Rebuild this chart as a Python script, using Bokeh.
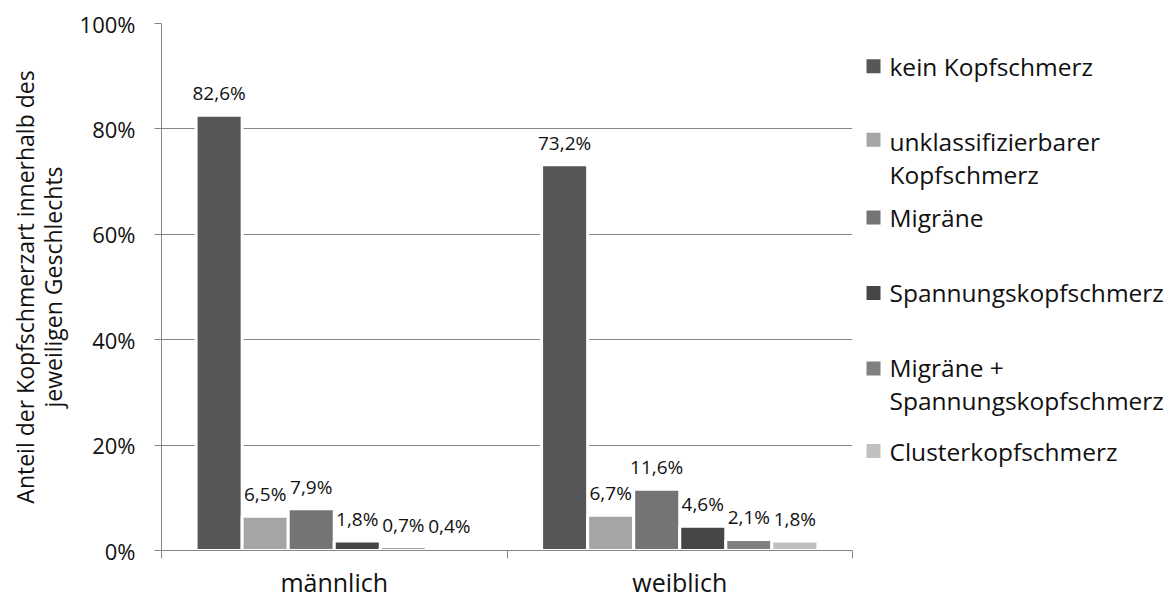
from bokeh.plotting import figure
from bokeh.models import (ColumnDataSource, FixedTicker, LabelSet, Range1d,
                          PrintfTickFormatter)
from bokeh.layouts import row
from bokeh.core.properties import value
from bokeh.embed import file_html
from bokeh.resources import INLINE

# --- data -------------------------------------------------------------
genders = ["männlich", "weiblich"]
series = ["kein Kopfschmerz",
          "unklassifizierbarer\nKopfschmerz",
          "Migräne",
          "Spannungskopfschmerz",
          "Migräne +\nSpannungskopfschmerz",
          "Clusterkopfschmerz"]
maennlich = [82.6, 6.5, 7.9, 1.8, 0.7, 0.4]
weiblich = [73.2, 6.7, 11.6, 4.6, 2.1, 1.8]
y_ticks = [0, 20, 40, 60, 80, 100]

colors = ["#575757", "#a5a5a5", "#747474", "#464646", "#808080", "#c0c0c0"]
FONT = "Open Sans"
AXIS_GREY = "#868686"
TEXT = "#111111"

# --- bar geometry (category units) -------------------------------------
n = len(series)
pitch = 0.1333
offsets = [(i - (n - 1) / 2) * pitch for i in range(n)]

xs, tops, fills, labels = [], [], [], []
for gi, vals in enumerate([maennlich, weiblich]):
    for si, v in enumerate(vals):
        xs.append(gi + 0.5 + offsets[si])
        tops.append(v)
        fills.append(colors[si])
        labels.append(f"{v:.1f}".replace(".", ",") + "%")

src = ColumnDataSource(dict(x=xs, top=tops, color=fills, label=labels))

TOP, BOTTOM = 23, 48

p = figure(width=865, height=601, output_backend="svg", toolbar_location=None,
           x_range=Range1d(0, 2), y_range=Range1d(0, 100),
           min_border_left=161, min_border_right=13,
           min_border_top=TOP, min_border_bottom=BOTTOM)
p.outline_line_color = None
p.background_fill_color = "white"

p.vbar(x="x", top="top", width=pitch, fill_color="color",
       line_color="white", line_width=3, source=src)

p.add_layout(LabelSet(x="x", y="top", text="label", source=src,
                      text_align="center", text_baseline="bottom",
                      y_offset=9, text_font=value(FONT),
                      text_font_size="19px", text_color=TEXT,
                      background_fill_color="white"))

# grid
p.xgrid.visible = False
p.ygrid.grid_line_color = AXIS_GREY
p.ygrid.grid_line_width = 1
p.ygrid.ticker = FixedTicker(ticks=y_ticks)

# y axis
p.yaxis.ticker = FixedTicker(ticks=y_ticks)
p.yaxis.formatter = PrintfTickFormatter(format="%d%%")
p.yaxis.axis_line_color = AXIS_GREY
p.yaxis.major_tick_line_color = AXIS_GREY
p.yaxis.major_tick_out = 7
p.yaxis.major_tick_in = 0
p.yaxis.minor_tick_line_color = None
p.yaxis.major_label_text_font = FONT
p.yaxis.major_label_text_font_size = "22px"
p.yaxis.major_label_text_color = TEXT
p.yaxis.major_label_standoff = 19
p.yaxis.axis_label = "Anteil der Kopfschmerzart innerhalb des\njeweiligen Geschlechts"
p.yaxis.axis_label_text_font = FONT
p.yaxis.axis_label_text_font_size = "23px"
p.yaxis.axis_label_text_font_style = "normal"
p.yaxis.axis_label_text_color = TEXT
p.yaxis.axis_label_text_line_height = 0.85
p.yaxis.axis_label_standoff = 8

# x axis: labels centred on groups, ticks on group boundaries
p.xaxis.ticker = FixedTicker(ticks=[i + 0.5 for i in range(len(genders))],
                             minor_ticks=list(range(len(genders) + 1)))
p.xaxis.major_label_overrides = {i + 0.5: g for i, g in enumerate(genders)}
p.xaxis.axis_line_color = AXIS_GREY
p.xaxis.major_tick_line_color = None
p.xaxis.major_tick_out = 0
p.xaxis.major_tick_in = 0
p.xaxis.minor_tick_line_color = AXIS_GREY
p.xaxis.minor_tick_out = 8
p.xaxis.minor_tick_in = 0
p.xaxis.major_label_text_font = FONT
p.xaxis.major_label_text_font_size = "25px"
p.xaxis.major_label_text_color = TEXT
p.xaxis.major_label_standoff = 6

# --- legend panel (page-pixel coordinates) --------------------------------
swatch_y = [66, 140, 218, 294, 370, 453]
text_y = [66, 158, 218, 294, 386, 453]

leg = figure(width=308, height=601, output_backend="svg", toolbar_location=None,
             x_range=Range1d(0, 308), y_range=Range1d(601 - BOTTOM, TOP),
             min_border_left=0, min_border_right=0,
             min_border_top=TOP, min_border_bottom=BOTTOM)
leg.axis.visible = False
leg.grid.visible = False
leg.outline_line_color = None

leg.scatter(x=[8] * n, y=swatch_y, marker="square", size=14,
            fill_color=colors, line_color=None)
leg.text(x=[24] * n, y=text_y, text=series, text_font=value(FONT),
         text_font_size="24.5px", text_baseline="middle", text_align="left",
         text_line_height=1.0, text_color=TEXT)

layout = row(p, leg)
open("out.html", "w").write(file_html(layout, INLINE))
